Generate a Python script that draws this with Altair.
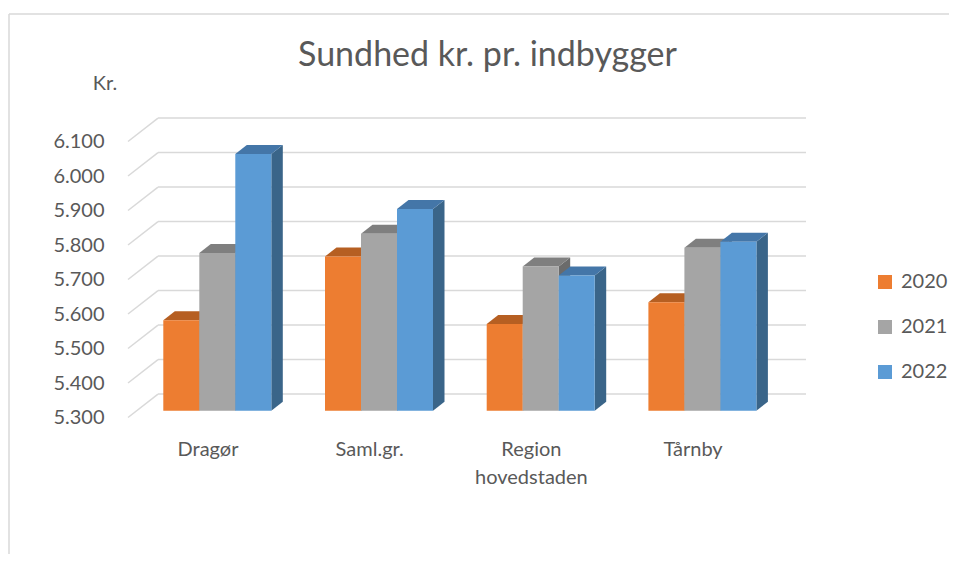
import altair as alt
import pandas as pd

# ---- data ----
categories = ["Dragør", "Saml.gr.", "Region\nhovedstaden", "Tårnby"]
years = ["2020", "2021", "2022"]
v2020 = [5562, 5747, 5551, 5614]
v2021 = [5757, 5813, 5718, 5772]
v2022 = [6044, 5885, 5692, 5790]
tick_values = [5300, 5400, 5500, 5600, 5700, 5800, 5900, 6000, 6100]
title_text = "Sundhed kr. pr. indbygger"
axis_title = "Kr."

front_colors = ["#ED7D31", "#A5A5A5", "#5B9BD5"]
top_colors = ["#B65F22", "#7F7F7F", "#4476A8"]
side_colors = ["#A9571E", "#6B6B6B", "#3A6589"]

# ---- layout (pseudo-3D geometry) ----
W, H = 678, 370
PXU = 0.345                      # pixels per value unit
BASE = 5300
Y_LO = BASE - 52.5 / PXU
Y_HI = BASE + 317.5 / PXU
WALL_DX, WALL_DV = 30, 23.4 / PXU
FRONT_DV = 6.8 / PXU
BAR_W = 36
BAR_DX, BAR_DV = 11.5, 9.0 / PXU
GROUP_OFF = -44.7
CX0, CSTEP = 80, 161.7

series = [v2020, v2021, v2022]

fronts, faces = [], []
for i, cat in enumerate(categories):
    cx = CX0 + CSTEP * i
    for j, yr in enumerate(years):
        val = series[j][i]
        xl = cx + GROUP_OFF + BAR_W * j
        xr = xl + BAR_W
        yb = BASE + FRONT_DV
        yt = val + FRONT_DV
        fronts.append(dict(cat=cat, year=yr, value=val, xl=xl, xr=xr, yb=yb, yt=yt))
        fid = f"s{i}{j}"
        faces.append(dict(face=fid, kind="side", x=xr, y=yb, y2=yt, col=side_colors[j]))
        faces.append(dict(face=fid, kind="side", x=xr + BAR_DX, y=yb + BAR_DV, y2=yt + BAR_DV, col=side_colors[j]))
        fid = f"t{i}{j}"
        faces.append(dict(face=fid, kind="top", x=xl, y=yt, y2=yt, col=top_colors[j]))
        faces.append(dict(face=fid, kind="top", x=xl + BAR_DX, y=yt, y2=yt + BAR_DV, col=top_colors[j]))
        faces.append(dict(face=fid, kind="top", x=xr, y=yt, y2=yt + BAR_DV, col=top_colors[j]))
        faces.append(dict(face=fid, kind="top", x=xr + BAR_DX, y=yt + BAR_DV, y2=yt + BAR_DV, col=top_colors[j]))

df_front = pd.DataFrame(fronts)
df_faces = pd.DataFrame(faces)
df_grid = pd.DataFrame({
    "v": tick_values,
    "vb": [t + WALL_DV for t in tick_values],
    "x0": [0] * len(tick_values),
    "x1": [WALL_DX] * len(tick_values),
    "x2": [W] * len(tick_values),
})
df_lab = pd.DataFrame({
    "cat": categories,
    "x": [CX0 + CSTEP * i for i in range(len(categories))],
    "y": [BASE - 22.5 / PXU] * len(categories),
})

GRID = "#D9D9D9"
TXT = "#595959"
FONT = "Lato"

xs = alt.Scale(domain=[0, W], range=[0, W], nice=False, zero=False)
ys = alt.Scale(domain=[Y_LO, Y_HI], nice=False, zero=False)
y_axis = alt.Axis(
    values=tick_values, title=None, grid=False, ticks=False, domain=False,
    labelExpr="replace(format(datum.value, ',.0f'), ',', '.')",
    labelFont=FONT, labelFontSize=20, labelColor=TXT, labelPadding=24)


def X(f):
    return alt.X(f, scale=xs, axis=None)


def Y(f):
    return alt.Y(f, scale=ys, axis=y_axis)


diag = alt.Chart(df_grid).mark_rule(stroke=GRID, strokeWidth=1.5).encode(
    x=X("x0:Q"), x2="x1:Q", y=Y("v:Q"), y2="vb:Q")
back = alt.Chart(df_grid).mark_rule(stroke=GRID, strokeWidth=1.5).encode(
    x=X("x1:Q"), x2="x2:Q", y=Y("vb:Q"))

sides = alt.Chart(df_faces).transform_filter("datum.kind == 'side'").mark_area(
    interpolate="linear", opacity=1).encode(
    x=X("x:Q"), y=Y("y:Q"), y2="y2:Q", detail="face:N",
    color=alt.Color("col:N", scale=None))
tops = alt.Chart(df_faces).transform_filter("datum.kind == 'top'").mark_area(
    interpolate="linear", opacity=1).encode(
    x=X("x:Q"), y=Y("y:Q"), y2="y2:Q", detail="face:N",
    color=alt.Color("col:N", scale=None))
front = alt.Chart(df_front).mark_rect().encode(
    x=X("xl:Q"), x2="xr:Q", y=Y("yb:Q"), y2="yt:Q",
    color=alt.Color("year:N", scale=alt.Scale(domain=years, range=front_colors),
                    legend=alt.Legend(title=None, orient="none", legendX=747, legendY=172,
                                      symbolType="square", symbolSize=196, symbolStrokeWidth=0,
                                      labelFont=FONT, labelFontSize=20, labelColor=TXT,
                                      labelOffset=6, rowPadding=25, padding=0)))

labels = alt.Chart(df_lab).mark_text(
    font=FONT, fontSize=20, color=TXT, baseline="top", align="center",
    lineBreak="\n", lineHeight=28).encode(
    x=X("x:Q"), y=Y("y:Q"), text="cat:N")

title = alt.Chart(pd.DataFrame({"t": [title_text]})).mark_text(
    font=FONT, fontSize=34, color=TXT, baseline="middle", align="center").encode(
    x=alt.value(359.5), y=alt.value(-44), text="t:N")
ktitle = alt.Chart(pd.DataFrame({"t": [axis_title]})).mark_text(
    font=FONT, fontSize=20, color=TXT, baseline="middle", align="center").encode(
    x=alt.value(-23), y=alt.value(-16), text="t:N")

frame_df = pd.DataFrame({"k": [0]})
frame_left = alt.Chart(frame_df).mark_rule(stroke=GRID, strokeWidth=1.5).encode(
    x=alt.value(-119), y=alt.value(-86), y2=alt.value(470))
frame_top = alt.Chart(frame_df).mark_rule(stroke=GRID, strokeWidth=1.5).encode(
    x=alt.value(-119), x2=alt.value(835), y=alt.value(-86))

chart = alt.layer(
    frame_left, frame_top, diag, back, sides, tops, front, labels, title, ktitle
).properties(
    width=W, height=H,
    autosize=alt.AutoSizeParams(type="none"),
    padding={"left": 120, "top": 92, "right": 143, "bottom": 84},
).configure(background="white").configure_view(strokeWidth=0, stroke="transparent")

chart.save("out.html", embed_options={"renderer": "svg", "actions": False})
